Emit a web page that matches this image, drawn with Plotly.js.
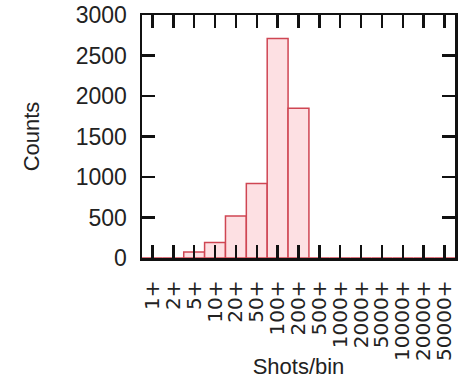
<!DOCTYPE html>
<html>
<head>
<meta charset="utf-8">
<script src="https://cdn.plot.ly/plotly-3.0.1.min.js"></script>
<style>
  html, body { margin: 0; padding: 0; background: #ffffff; }
  #chart { width: 469px; height: 379px; }
</style>
</head>
<body>
<div id="chart"></div>
<script>
// Histogram of shots per bin, binned by lower bound
var binLabels = ["1+", "2+", "5+", "10+", "20+", "50+", "100+", "200+",
                 "500+", "1000+", "2000+", "5000+", "10000+", "20000+", "50000+"];
var counts = [0, 0, 75, 190, 520, 920, 2710, 1850, 0, 0, 0, 0, 0, 0, 0];
var yTicks = [0, 500, 1000, 1500, 2000, 2500, 3000];

var trace = {
  type: "bar",
  x: binLabels,
  y: counts,
  width: 1,
  marker: {
    color: "#fde0e3",
    line: { color: "#cf4653", width: 1.5 }
  },
  hoverinfo: "x+y"
};

var layout = {
  width: 469,
  height: 379,
  margin: { l: 142, r: 14, t: 15, b: 121 },
  paper_bgcolor: "#ffffff",
  plot_bgcolor: "#ffffff",
  showlegend: false,
  font: { family: "Liberation Sans, Arial, sans-serif", color: "#222222" },
  xaxis: {
    type: "category",
    categoryorder: "array",
    categoryarray: binLabels,
    range: [-0.5, 14.5],
    tickmode: "array",
    tickvals: binLabels,
    ticktext: binLabels,
    ticks: "inside",
    ticklen: 13,
    tickwidth: 2.5,
    tickcolor: "#111111",
    showline: true,
    linecolor: "#111111",
    linewidth: 2.5,
    mirror: "ticks",
    showgrid: false,
    zeroline: false,
    tickangle: -90,
    ticklabelstandoff: 12,
    tickfont: { family: "DejaVu Sans, sans-serif", size: 20, color: "#222222" },
    title: {
      text: "Shots/bin",
      font: { family: "Liberation Sans, Arial, sans-serif", size: 22, color: "#222222" },
      standoff: 0
    }
  },
  yaxis: {
    range: [0, 3000],
    tickmode: "array",
    tickvals: yTicks,
    ticktext: yTicks.map(String),
    ticks: "inside",
    ticklen: 13,
    tickwidth: 2.5,
    tickcolor: "#111111",
    showline: true,
    linecolor: "#111111",
    linewidth: 2.5,
    mirror: "ticks",
    showgrid: false,
    zeroline: false,
    ticklabelstandoff: 8,
    tickfont: { family: "Liberation Sans, Arial, sans-serif", size: 23, color: "#222222" },
    title: {
      text: "Counts",
      font: { family: "Liberation Sans, Arial, sans-serif", size: 22, color: "#222222" },
      standoff: 30
    }
  }
};

Plotly.newPlot("chart", [trace], layout, { displayModeBar: false, staticPlot: true });
</script>
</body>
</html>
